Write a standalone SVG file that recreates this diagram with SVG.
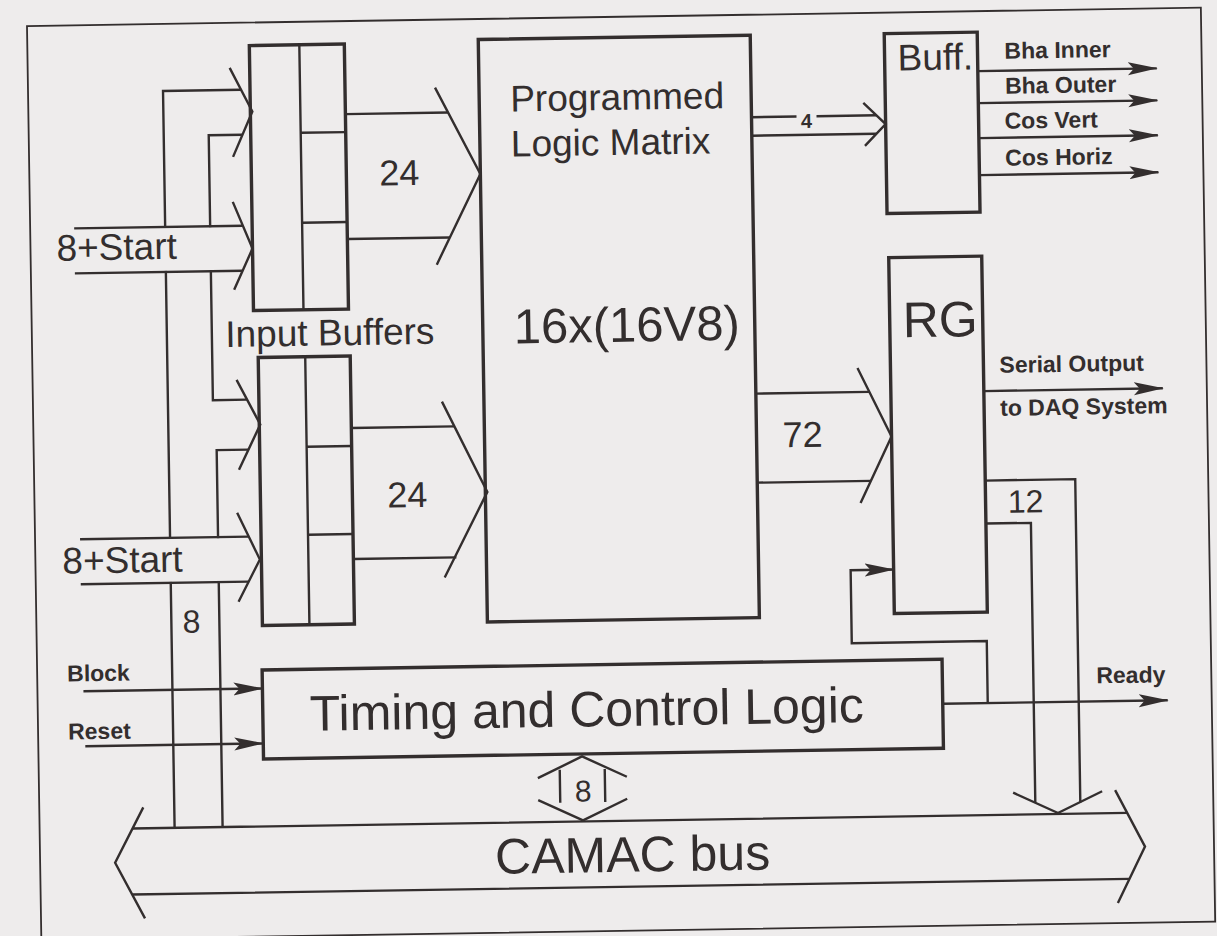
<svg xmlns="http://www.w3.org/2000/svg" width="1217" height="936" viewBox="0 0 1217 936">
<defs>
<style>
.box{fill:none;stroke:#332e2e;stroke-width:3.4}
.ln{fill:none;stroke:#332e2e;stroke-width:2.4}
.thin{fill:none;stroke:#332e2e;stroke-width:1.8}
.bg{fill:#eeecec;stroke:none}
.t{font-family:"Liberation Sans",Arial,sans-serif;fill:#332e2e}
.big{font-size:50px}
.mid{font-size:37px}
.sm{font-size:23px;font-weight:bold}
</style>
<marker id="ah" markerUnits="userSpaceOnUse" markerWidth="30" markerHeight="16" viewBox="0 0 30 16" refX="29" refY="8" orient="auto">
<path d="M0,1.5 L30,8 L0,14.5 L6,8 z" fill="#332e2e"/>
</marker>
</defs>
<rect x="0" y="0" width="1217" height="936" fill="#eeecec"/>
<g transform="rotate(-0.9 608 468)">
<rect id="frame" x="34" y="17" width="1174" height="914" class="thin"/>

<g id="connectors">
<!-- left CAMAC bus feeding the input buffers -->
<path class="ln" d="M169,821 V84 H247"/>
<path class="ln" d="M247.8,129 H214 V394 H248"/>
<path class="ln" d="M248.8,444 H217 V821"/>
<path class="ln" d="M236,62 L258,106 L238,151"/>
<path class="ln" d="M238,374 L261,419 L239,464"/>
<text class="t" x="189" y="626" font-size="32" text-anchor="middle">8</text>

<!-- 8+Start inputs -->
<rect class="bg" x="78" y="221" width="168" height="43"/>
<path class="ln" d="M78,220 H246.7 M78,265 H245.8"/>
<path class="ln" d="M237,196 L256,243 L237,284"/>
<text class="t mid" x="60" y="252">8+Start</text>
<rect class="bg" x="79" y="532" width="168" height="43"/>
<path class="ln" d="M79,531 H247.7 M79,576 H247"/>
<path class="ln" d="M236.5,507 L258.5,554 L236.5,596"/>
<text class="t mid" x="61" y="565">8+Start</text>

<!-- 24 buses -->
<path class="ln" d="M351,110 H453.5 M351,235 H453.6"/>
<path class="ln" d="M441,85 L485,172 L440,262"/>
<text class="t" x="404" y="182" font-size="36" text-anchor="middle">24</text>
<path class="ln" d="M352,424 H455 M352,555 H455"/>
<path class="ln" d="M443,399 L487,490 L443,575"/>
<text class="t" x="407" y="504" font-size="36" text-anchor="middle">24</text>

<!-- 4 bus to Buff -->
<path class="ln" d="M757,119.5 H802 M822,119.5 H881.8 M757,138 H881.7"/>
<path class="ln" d="M869,107 L891,128.5 L870,150"/>
<text class="t" x="812" y="131" font-size="20" font-weight="bold" text-anchor="middle">4</text>

<!-- Buff outputs -->
<path class="ln" d="M984,77 H1163" marker-end="url(#ah)"/>
<path class="ln" d="M984,109 H1163" marker-end="url(#ah)"/>
<path class="ln" d="M984,144 H1163" marker-end="url(#ah)"/>
<path class="ln" d="M984,181 H1163" marker-end="url(#ah)"/>
<text class="t sm" x="1011" y="65">Bha Inner</text>
<text class="t sm" x="1011" y="100">Bha Outer</text>
<text class="t sm" x="1010" y="135">Cos Vert</text>
<text class="t sm" x="1010" y="172">Cos Horiz</text>

<!-- 72 bus -->
<path class="ln" d="M757,396 H870.5 M757,485 H870.7"/>
<path class="ln" d="M859,372 L892,441 L860,507"/>
<text class="t" x="803" y="450" font-size="36" text-anchor="middle">72</text>

<!-- Serial output -->
<path class="ln" d="M985,397 H1164" marker-end="url(#ah)"/>
<text class="t sm" x="1001" y="379">Serial Output</text>
<text class="t sm" x="1001" y="422">to DAQ System</text>

<!-- 12 bus to CAMAC -->
<path class="ln" d="M985,486.5 H1075 V810"/>
<path class="ln" d="M985,529.5 H1030 V809"/>
<path class="ln" d="M1008,799 L1052.5,820 L1097,799"/>
<text class="t" x="1025" y="519" font-size="32" text-anchor="middle">12</text>

<!-- Block / Reset -->
<path class="ln" d="M80,683 H259" marker-end="url(#ah)"/>
<path class="ln" d="M81,738 H259" marker-end="url(#ah)"/>
<text class="t sm" x="64" y="673">Block</text>
<text class="t sm" x="64" y="731">Reset</text>

<!-- Ready and feedback to RG -->
<path class="ln" d="M939,709 H1164" marker-end="url(#ah)"/>
<text class="t sm" x="1093" y="691">Ready</text>
<path class="ln" d="M984,709 V647 H849 V574 H892" marker-end="url(#ah)"/>

<!-- 8 bidirectional Timing <-> CAMAC -->
<path class="ln" d="M555,769 V802 M600,769 V802"/>
<path class="ln" d="M533,777 L577.5,756 L622,777"/>
<path class="ln" d="M533,799 L577.5,820 L622,799"/>
<text class="t" x="578" y="801" font-size="30" text-anchor="middle">8</text>
</g>

<g id="camac">
<path class="ln" d="M127,821 H1121.7 M125.6,887 H1123"/>
<path class="ln" d="M138,800 L109,855 L138,911"/>
<path class="ln" d="M1110,798 L1139,855 L1111,911"/>
<text class="t big" x="489" y="872">CAMAC bus</text>
</g>

<g id="input-buffer-1">
<rect class="box" x="256" y="40" width="95" height="265"/>
<path class="ln" d="M306,40 V305 M306,128 H351 M306,218 H351"/>
</g>
<g id="input-buffer-2">
<rect class="box" x="260" y="352" width="92" height="268"/>
<path class="ln" d="M307,352 V620 M307,442 H352 M307,530 H352"/>
</g>
<text class="t mid" x="332" y="341" text-anchor="middle">Input Buffers</text>

<g id="plm">
<rect class="box" x="485" y="37.5" width="272" height="582.5"/>
<text class="t mid" x="516" y="110">Programmed</text>
<text class="t mid" x="516" y="155">Logic Matrix</text>
<text class="t" x="516" y="342" font-size="49">16x(16V8)</text>
</g>

<g id="buff">
<rect class="box" x="891" y="38" width="93" height="180"/>
<text class="t mid" x="904" y="75">Buff.</text>
</g>

<g id="rg">
<rect class="box" x="892" y="262" width="93" height="356"/>
<text class="t big" x="905" y="342">RG</text>
</g>

<g id="timing">
<rect class="box" x="259" y="664.5" width="680" height="89"/>
<text class="t big" x="306" y="726">Timing and Control Logic</text>
</g>
</g>
</svg>
